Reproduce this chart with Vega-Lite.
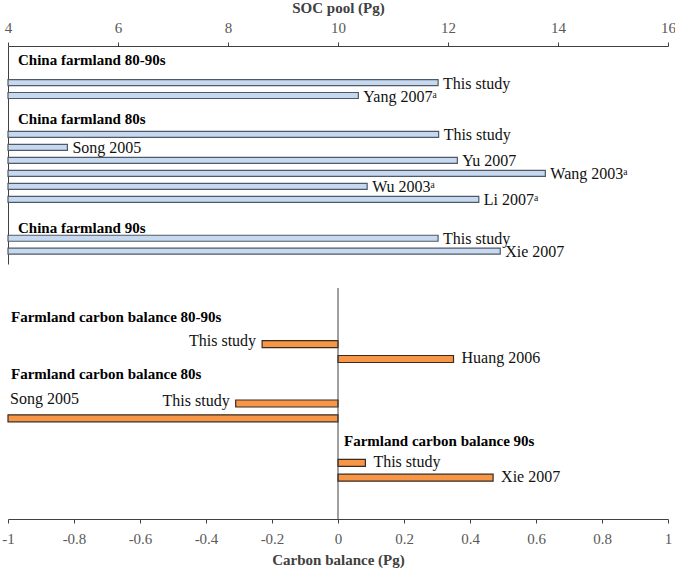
{
  "$schema": "https://vega.github.io/schema/vega-lite/v6.json",
  "background": "white",
  "padding": {"left": 1, "right": 0, "top": 0, "bottom": 2},
  "spacing": 23,
  "config": {
    "view": {"stroke": null},
    "font": "Liberation Serif",
    "axis": {
      "labelFont": "Liberation Serif",
      "titleFont": "Liberation Serif",
      "labelFontSize": 15,
      "titleFontSize": 15,
      "titleFontWeight": "bold",
      "labelColor": "#595959",
      "titleColor": "#404040",
      "domainColor": "#404040",
      "tickColor": "#404040",
      "grid": false
    }
  },
  "datasets": {
    "soc": [
      {"group": "China farmland 80-90s", "source": "This study", "value": 11.82, "row": 0},
      {"group": "China farmland 80-90s", "source": "Yang 2007ᵃ", "value": 10.37, "row": 1},
      {"group": "China farmland 80s", "source": "This study", "value": 11.83, "row": 4},
      {"group": "China farmland 80s", "source": "Song 2005", "value": 5.08, "row": 5},
      {"group": "China farmland 80s", "source": "Yu 2007", "value": 12.17, "row": 6},
      {"group": "China farmland 80s", "source": "Wang 2003ᵃ", "value": 13.77, "row": 7},
      {"group": "China farmland 80s", "source": "Wu 2003ᵃ", "value": 10.53, "row": 8},
      {"group": "China farmland 80s", "source": "Li 2007ᵃ", "value": 12.56, "row": 9},
      {"group": "China farmland 90s", "source": "This study", "value": 11.82, "row": 12},
      {"group": "China farmland 90s", "source": "Xie 2007", "value": 12.95, "row": 13}
    ],
    "socHeaders": [
      {"label": "China farmland 80-90s", "row": -1.7},
      {"label": "China farmland 80s", "row": 2.8},
      {"label": "China farmland 90s", "row": 11.2}
    ],
    "cb": [
      {"group": "Farmland carbon balance 80-90s", "source": "This study", "value": -0.23, "row": 0},
      {"group": "Farmland carbon balance 80-90s", "source": "Huang 2006", "value": 0.35, "row": 1},
      {"group": "Farmland carbon balance 80s", "source": "This study", "value": -0.31, "row": 4},
      {"group": "Farmland carbon balance 80s", "source": "Song 2005", "value": -1.0, "row": 5},
      {"group": "Farmland carbon balance 90s", "source": "This study", "value": 0.083, "row": 8},
      {"group": "Farmland carbon balance 90s", "source": "Xie 2007", "value": 0.47, "row": 9}
    ],
    "cbHeaders": [
      {"label": "Farmland carbon balance 80-90s", "row": -1.8},
      {"label": "Farmland carbon balance 80s", "row": 2.0},
      {"label": "Farmland carbon balance 90s", "row": 6.55}
    ]
  },
  "vconcat": [
    {
      "width": 660,
      "height": 218,
      "layer": [
        {
          "data": {"name": "soc"},
          "mark": {"type": "bar", "orient": "horizontal", "size": 6, "fill": "#c6d9f1", "stroke": "#505a64", "strokeWidth": 1.2},
          "encoding": {
            "x": {
              "field": "value", "type": "quantitative",
              "scale": {"domain": [4, 16], "nice": false, "zero": false},
              "axis": {"orient": "top", "title": "SOC pool (Pg)", "values": [4, 6, 8, 10, 12, 14, 16], "format": "d", "tickSize": 4, "labelPadding": 7, "titlePadding": 5, "labelFlush": false}
            },
            "x2": {"datum": 4},
            "y": {
              "field": "row", "type": "quantitative",
              "scale": {"domain": [-2.43, 13.6], "reverse": true, "nice": false, "zero": false},
              "axis": {"orient": "left", "title": null, "labels": false, "ticks": false, "domain": true}
            }
          }
        },
        {
          "data": {"name": "soc"},
          "mark": {"type": "text", "align": "left", "baseline": "middle", "dx": 5, "dy": 1, "fontSize": 16, "font": "Liberation Serif", "color": "#111"},
          "encoding": {
            "x": {"field": "value", "type": "quantitative"},
            "y": {"field": "row", "type": "quantitative"},
            "text": {"field": "source"}
          }
        },
        {
          "data": {"name": "socHeaders"},
          "mark": {"type": "text", "align": "left", "baseline": "middle", "dx": 10, "fontSize": 15, "fontWeight": "bold", "font": "Liberation Serif", "color": "#000"},
          "encoding": {
            "x": {"datum": 4},
            "y": {"field": "row", "type": "quantitative"},
            "text": {"field": "label"}
          }
        }
      ]
    },
    {
      "width": 660,
      "height": 231,
      "layer": [
        {
          "data": {"name": "cb"},
          "mark": {"type": "bar", "orient": "horizontal", "size": 7, "fill": "#f79646", "stroke": "#3b2a20", "strokeWidth": 1.2},
          "encoding": {
            "x": {
              "field": "value", "type": "quantitative",
              "scale": {"domain": [-1, 1], "nice": false},
              "axis": {
                "orient": "bottom", "title": "Carbon balance (Pg)",
                "values": [-1, -0.8, -0.6, -0.4, -0.2, 0, 0.2, 0.4, 0.6, 0.8, 1],
                "labelExpr": "datum.value < 0 ? '-' + format(-datum.value, '~g') : format(datum.value, '~g')",
                "tickSize": 4, "labelPadding": 8, "titlePadding": 6, "labelFlush": false
              }
            },
            "x2": {"datum": 0},
            "y": {
              "field": "row", "type": "quantitative",
              "scale": {"domain": [-3.45, 11.45], "reverse": true, "nice": false, "zero": false},
              "axis": null
            }
          }
        },
        {
          "data": {"values": [{"line": "zero"}]},
          "mark": {"type": "rule", "color": "#404040", "strokeWidth": 1},
          "encoding": {"x": {"datum": 0}}
        },
        {
          "data": {"name": "cb"},
          "transform": [{"filter": "datum.value > 0"}],
          "mark": {"type": "text", "align": "left", "baseline": "middle", "dx": 8, "dy": -1, "fontSize": 16, "font": "Liberation Serif", "color": "#111"},
          "encoding": {
            "x": {"field": "value", "type": "quantitative"},
            "y": {"field": "row", "type": "quantitative"},
            "text": {"field": "source"}
          }
        },
        {
          "data": {"name": "cb"},
          "transform": [{"filter": "datum.value < 0 && datum.source != 'Song 2005'"}],
          "mark": {"type": "text", "align": "right", "baseline": "middle", "dx": -6, "dy": -3, "fontSize": 16, "font": "Liberation Serif", "color": "#111"},
          "encoding": {
            "x": {"field": "value", "type": "quantitative"},
            "y": {"field": "row", "type": "quantitative"},
            "text": {"field": "source"}
          }
        },
        {
          "data": {"name": "cb"},
          "transform": [{"filter": "datum.source == 'Song 2005'"}],
          "mark": {"type": "text", "align": "left", "baseline": "middle", "dx": 2, "dy": -19, "fontSize": 16, "font": "Liberation Serif", "color": "#111"},
          "encoding": {
            "x": {"datum": -1},
            "y": {"field": "row", "type": "quantitative"},
            "text": {"field": "source"}
          }
        },
        {
          "data": {"name": "cbHeaders"},
          "transform": [{"filter": "datum.label != 'Farmland carbon balance 90s'"}],
          "mark": {"type": "text", "align": "left", "baseline": "middle", "dx": 3, "fontSize": 15, "fontWeight": "bold", "font": "Liberation Serif", "color": "#000"},
          "encoding": {
            "x": {"datum": -1},
            "y": {"field": "row", "type": "quantitative"},
            "text": {"field": "label"}
          }
        },
        {
          "data": {"name": "cbHeaders"},
          "transform": [{"filter": "datum.label == 'Farmland carbon balance 90s'"}],
          "mark": {"type": "text", "align": "left", "baseline": "middle", "dx": 6, "fontSize": 15, "fontWeight": "bold", "font": "Liberation Serif", "color": "#000"},
          "encoding": {
            "x": {"datum": 0},
            "y": {"field": "row", "type": "quantitative"},
            "text": {"field": "label"}
          }
        }
      ]
    }
  ]
}
